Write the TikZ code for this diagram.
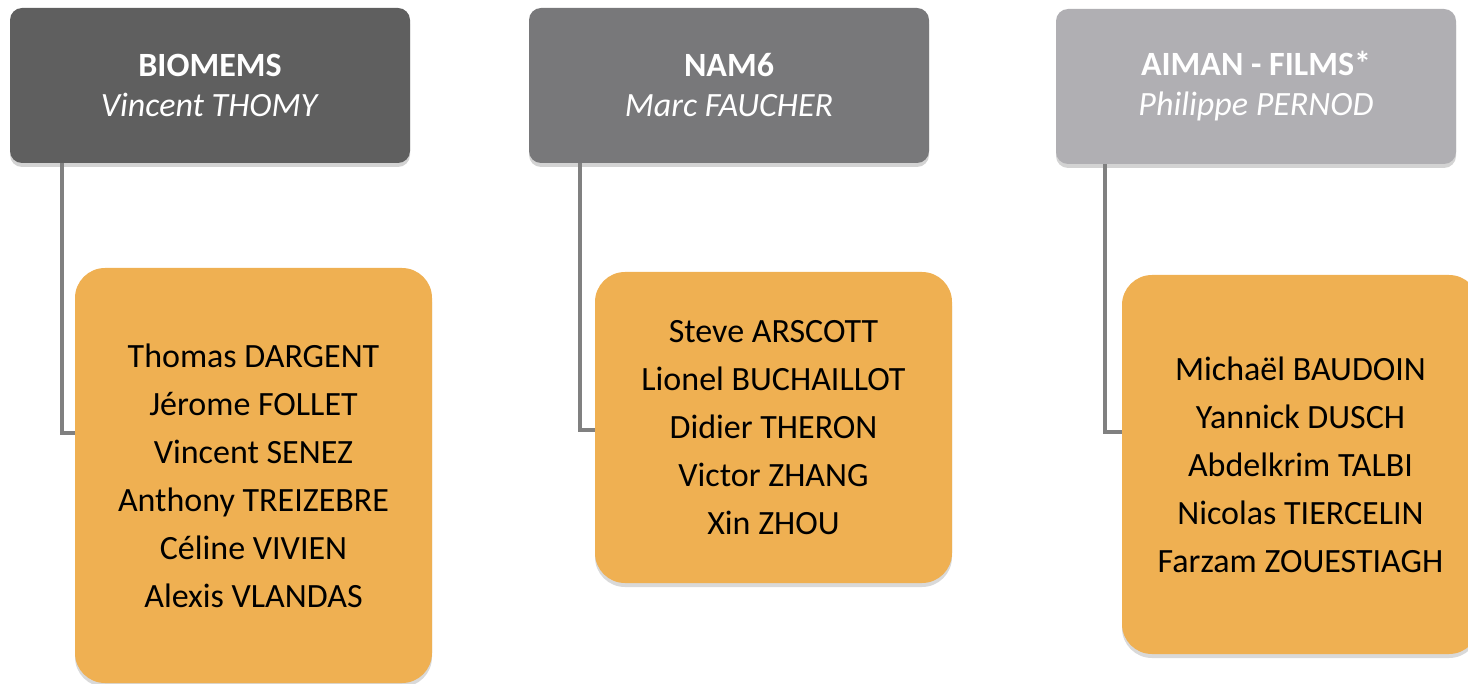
\documentclass[tikz,border=0pt]{standalone}
\usepackage{fontspec}
\setmainfont{Carlito}
\usetikzlibrary{positioning,shadows,calc}
\definecolor{mydark}{RGB}{95,95,95}
\definecolor{mymid}{RGB}{120,120,122}
\definecolor{mylight}{RGB}{176,175,179}
\definecolor{myorange}{RGB}{239,176,82}
\definecolor{mygray}{RGB}{128,128,128}

\begin{document}
\begin{tikzpicture}[x=0.5pt,y=-0.5pt,
	every node/.style={align=center,inner sep=0pt},
	headnode/.style={rounded corners=6pt,minimum width=200pt,minimum height=77.5pt,
		text=white,font=\fontsize{17}{20}\selectfont,
		drop shadow={opacity=0.35,shadow xshift=0pt,shadow yshift=-2pt}},
	membernode/.style={fill=myorange,rounded corners=15pt,minimum width=178.5pt,
		font=\fontsize{17}{24}\selectfont,
		drop shadow={opacity=0.3,shadow xshift=0pt,shadow yshift=-2pt}},
	link/.style={draw=mygray,line width=2pt},
	]
	\useasboundingbox (0,0) rectangle (1468,684);
	
	% the team heads
	\node[headnode,fill=mydark] (h1) at (210,85.5) {\textbf{BIOMEMS}\\\textit{Vincent THOMY}};
	\node[headnode,fill=mymid] (h2) at (729,85.5) {\textbf{NAM6}\\\textit{Marc FAUCHER}};
	\node[headnode,fill=mylight] (h3) at (1256,86.5) {\textbf{AIMAN - FILMS*}\\\textit{Philippe PERNOD}};
	
	% the members
	\node[membernode,minimum height=207.5pt] (m1) at (253.5,475.5)
		{Thomas DARGENT\\Jérome FOLLET\\Vincent SENEZ\\Anthony TREIZEBRE\\Céline VIVIEN\\Alexis VLANDAS};
	\node[membernode,minimum height=155.5pt] (m2) at (773.5,427.5)
		{Steve ARSCOTT\\Lionel BUCHAILLOT\\Didier THERON\\Victor ZHANG\\Xin ZHOU};
	\node[membernode,minimum height=189.5pt] (m3) at (1300.5,464.5)
		{Michaël BAUDOIN\\Yannick DUSCH\\Abdelkrim TALBI\\Nicolas TIERCELIN\\Farzam ZOUESTIAGH};
	
	% the edges
	\coordinate (j1) at (62,433);
	\coordinate (j2) at (580,430);
	\coordinate (j3) at (1105,432);
	\foreach \i in {1,2,3}
	\draw[link] (h\i.south -| j\i) -- (j\i) -- (j\i -| m\i.west);
\end{tikzpicture}
\end{document}
